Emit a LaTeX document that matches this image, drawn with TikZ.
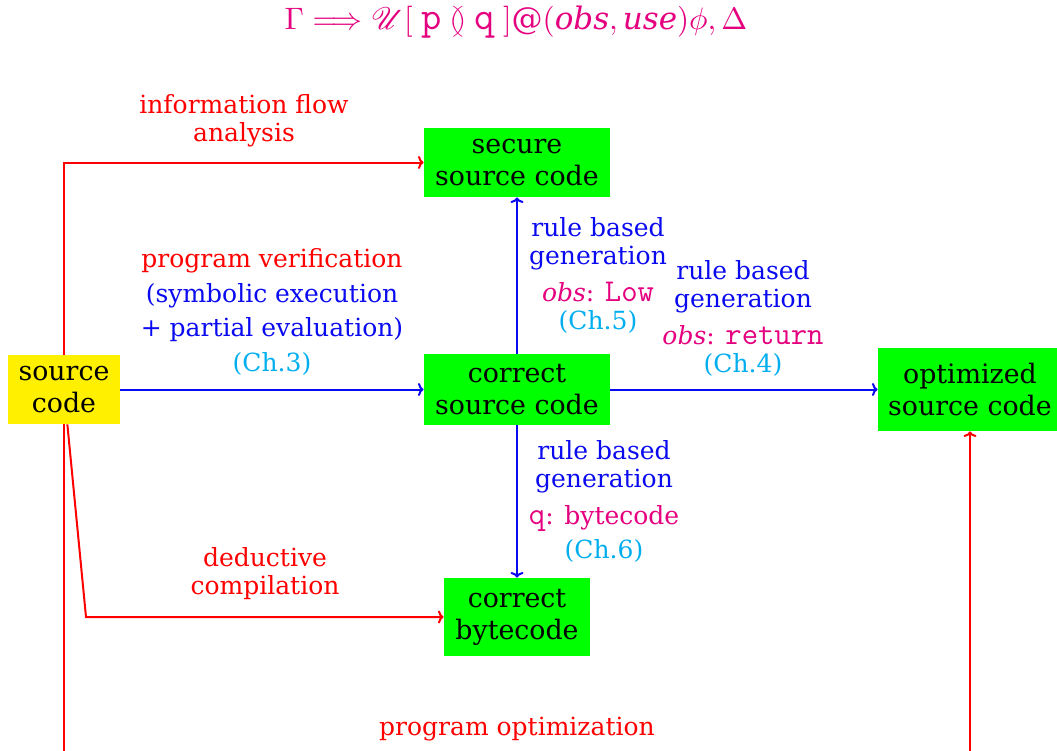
\documentclass[tikz,border=0pt]{standalone}
\usepackage{fontspec}
\setmainfont{DejaVu Serif}
\setmonofont{Latin Modern Mono}[Scale=1.27]
\usepackage{amssymb}
\usepackage{mathrsfs}
\usetikzlibrary{arrows.meta}

\definecolor{flowred}{RGB}{255,0,0}
\definecolor{flowblue}{RGB}{10,10,240}
\definecolor{chapcyan}{RGB}{0,174,239}
\definecolor{annmag}{RGB}{228,0,127}
\definecolor{boxgreen}{RGB}{0,255,0}
\definecolor{boxyellow}{RGB}{255,240,0}

\newcommand{\boxfont}{\fontsize{13.4}{16}\selectfont}
\newcommand{\lblfont}{\fontsize{12.5}{14}\selectfont}

\begin{document}
\begin{tikzpicture}[
  x=0.5pt, y=-0.5pt,
  artefact/.style={fill=boxgreen, text=black, align=center, inner sep=0pt, font=\boxfont},
  lbl/.style={align=center, inner sep=0pt, font=\lblfont},
  rflow/.style={draw=flowred, line width=1pt, -{To[length=2.8pt,width=6.5pt]}},
  bflow/.style={draw=flowblue, line width=1pt, -{To[length=2.8pt,width=6.5pt]}},
]
\useasboundingbox (0,0) rectangle (1057,751);

% judgement at the top
\node[scale=1.55, transform shape, text=annmag] (judgement) at (516,22)
  {$\Gamma\Longrightarrow\mathscr{U}[\;\texttt{p}\between\texttt{q}\;]@(\mathit{obs},\mathit{use})\phi,\Delta$};

% artefacts
\node[artefact, fill=boxyellow, minimum width=56pt, minimum height=34.5pt] (source) at (64,389.5) {source\\code};
\node[artefact, minimum width=93pt, minimum height=34.5pt] (secure) at (517,162.5) {secure\\source code};
\node[artefact, minimum width=93pt, minimum height=35.5pt] (correct) at (517,389.5) {correct\\source code};
\node[artefact, minimum width=92pt, minimum height=41.5pt] (optimized) at (970,389.5) {optimized\\source code};
\node[artefact, minimum width=73pt, minimum height=39pt] (bytecode) at (517,617) {correct\\bytecode};

% labels
\node[lbl, text=flowred] (lblinfo) at (244,121) {information flow\\analysis};
\node[lbl] (lblverif) at (272,312)
  {\textcolor{flowred}{program verification}\\[3.5pt]
   \textcolor{flowblue}{(symbolic execution}\\[3pt]
   \textcolor{flowblue}{+ partial evaluation)}\\[3.5pt]
   \textcolor{chapcyan}{(Ch.3)}};
\node[lbl] (lblsec) at (598,275)
  {\textcolor{flowblue}{rule based}\\
   \textcolor{flowblue}{generation}\\[4.5pt]
   \textcolor{annmag}{\textit{obs}: \texttt{Low}}\\
   \textcolor{chapcyan}{(Ch.5)}};
\node[lbl] (lblopt) at (743,318)
  {\textcolor{flowblue}{rule based}\\
   \textcolor{flowblue}{generation}\\[4.5pt]
   \textcolor{annmag}{\textit{obs}: \texttt{return}}\\
   \textcolor{chapcyan}{(Ch.4)}};
\node[lbl] (lblbyte) at (604,501)
  {\textcolor{flowblue}{rule based}\\
   \textcolor{flowblue}{generation}\\[4.5pt]
   \textcolor{annmag}{\texttt{q}: bytecode}\\[3pt]
   \textcolor{chapcyan}{(Ch.6)}};
\node[lbl, text=flowred] (lbldeduct) at (265,574) {deductive\\compilation};
\node[lbl, text=flowred] (lblpopt) at (517,729) {program optimization};

% connectors
\coordinate (dcorner) at (86,617);
\coordinate (obase) at (517,785);
\draw[rflow] (source.north) |- (secure);
\draw[bflow] (source) -- (correct);
\draw[rflow] (source) -- (dcorner) -- (bytecode);
\draw[rflow] (source.south) |- (obase) -| (optimized.south);
\draw[bflow] (correct) -- (secure);
\draw[bflow] (correct) -- (optimized);
\draw[bflow] (correct) -- (bytecode);
\end{tikzpicture}
\end{document}
